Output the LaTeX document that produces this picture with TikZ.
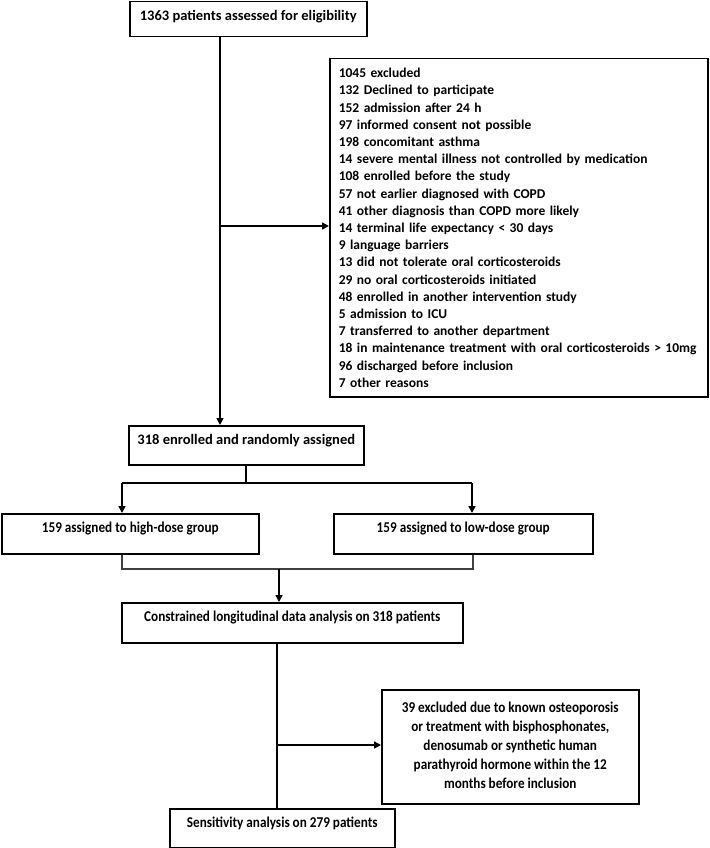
\documentclass[tikz,border=0pt]{standalone}
\usepackage{fontspec}
\usepackage{graphicx}
\setmainfont{Carlito}
\usetikzlibrary{arrows.meta}
\newcommand{\slimtext}[1]{\scalebox{0.88}[1]{#1}}
\tikzset{
  box/.style={draw, line width=1.5pt, anchor=north west, inner xsep=0pt, inner ysep=0pt,
    text height=19pt, font=\bfseries\fontsize{14.5}{17}\selectfont},
  slimbox/.style={box, font=\bfseries\fontsize{15}{18.8}\selectfont},
  listbox/.style={draw, line width=1.5pt, anchor=north west, inner xsep=9pt, inner ysep=0pt,
    font=\bfseries\fontsize{13.5}{17.2}\selectfont},
  joinline/.style={line width=1.1pt, draw=black!75},
}
\begin{document}
\begin{tikzpicture}[x=1pt,y=-1pt,line width=1.5pt,>={Triangle[length=7pt,width=7pt]}]
    \useasboundingbox (0,0) rectangle (709,848);
    \node [box, minimum width=237pt, text depth=16pt] (screen) at (129,1) {1363 patients assessed for eligibility};
    \node [listbox, text width=360pt, minimum height=338pt, align=left] (excl) at (329,58) {1045 excluded\\
      132 Declined to participate\\
      152 admission after 24 h\\
      97 informed consent not possible\\
      198 concomitant asthma\\
      14 severe mental illness not controlled by medication\\
      108 enrolled before the study\\
      57 not earlier diagnosed with COPD\\
      41 other diagnosis than COPD more likely\\
      14 terminal life expectancy < 30 days\\
      9 language barriers\\
      13 did not tolerate oral corticosteroids\\
      29 no oral corticosteroids initiated\\
      48 enrolled in another intervention study\\
      5 admission to ICU\\
      7 transferred to another department\\
      18 in maintenance treatment with oral corticosteroids > 10mg\\
      96 discharged before inclusion\\
      7 other reasons};
    \node [box, minimum width=235pt, text depth=20pt] (enrol) at (128,425) {318 enrolled and randomly assigned};
    \node [slimbox, minimum width=257pt, text depth=21pt] (high) at (1,513) {\slimtext{159 assigned to high-dose group}};
    \node [slimbox, minimum width=259pt, text depth=21pt] (low) at (333,513) {\slimtext{159 assigned to low-dose group}};
    \node [slimbox, minimum width=341pt, text depth=21pt] (cons) at (121,602) {\slimtext{Constrained longitudinal data analysis on 318 patients}};
    \node [listbox, inner xsep=0pt, minimum width=257pt, minimum height=114pt,
      font=\bfseries\fontsize{15}{18.8}\selectfont] (bone) at (381,689) {\slimtext{\begin{tabular}{@{}c@{}}39 excluded due to known osteoporosis\\
      or treatment with bisphosphonates,\\
      denosumab or synthetic human\\
      parathyroid hormone within the 12\\
      months before inclusion\end{tabular}}};
    \node [slimbox, minimum width=225pt, text depth=20pt] (sens) at (169,808) {\slimtext{Sensitivity analysis on 279 patients}};
    \coordinate (trunk) at (220,226);
    \coordinate (split) at (246,483);
    \coordinate (splitL) at (122,483);
    \coordinate (splitR) at (472,483);
    \coordinate (joinL) at (122,569);
    \coordinate (joinM) at (279,569);
    \coordinate (joinR) at (473,569);
    \coordinate (branch) at (277,745);
    \draw [->] (screen.south -| trunk) -- (enrol.north -| trunk);
    \draw [->] (trunk) -- (excl.west |- trunk);
    \draw (enrol.south -| split) -- (split);
    \draw (splitL) -- (splitR);
    \draw [->] (splitL) -- (high.north -| splitL);
    \draw [->] (splitR) -- (low.north -| splitR);
    \draw [joinline] (high.south -| joinL) -- (joinL) -- (joinR) -- (low.south -| joinR);
    \draw [->] (joinM) -- (cons.north -| joinM);
    \draw (cons.south -| branch) -- (sens.north -| branch);
    \draw [->] (branch) -- (bone.west |- branch);
\end{tikzpicture}
\end{document}
